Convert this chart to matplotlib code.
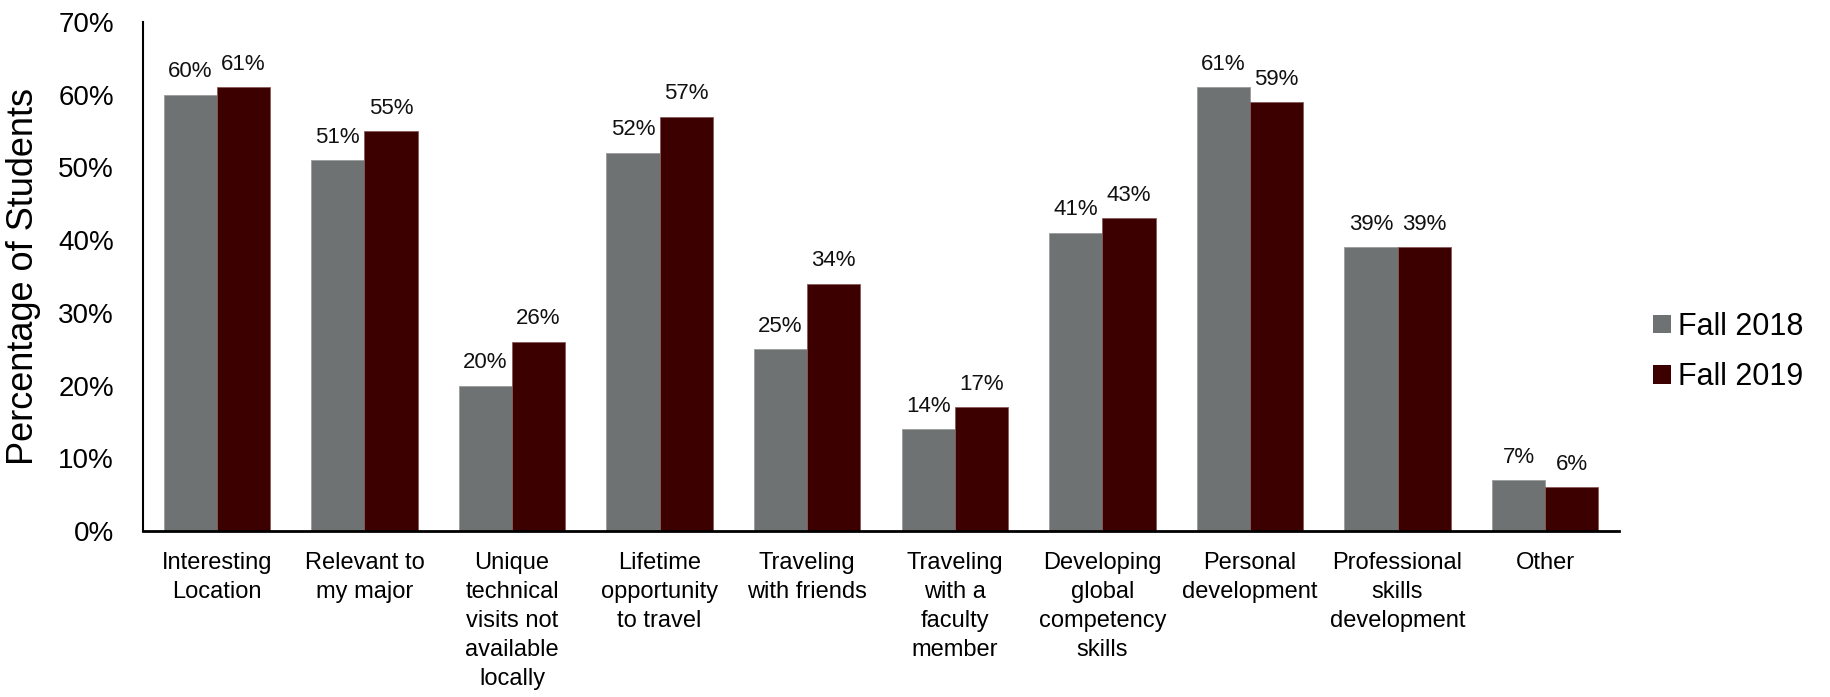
import numpy as np
import matplotlib
matplotlib.use("Agg")
import matplotlib.pyplot as plt
from matplotlib.patches import Patch

plt.rcParams["font.family"] = ["Liberation Sans", "DejaVu Sans"]

# Reasons for studying abroad, percentage of students
categories = [
    "Interesting\nLocation",
    "Relevant to\nmy major",
    "Unique\ntechnical\nvisits not\navailable\nlocally",
    "Lifetime\nopportunity\nto travel",
    "Traveling\nwith friends",
    "Traveling\nwith a\nfaculty\nmember",
    "Developing\nglobal\ncompetency\nskills",
    "Personal\ndevelopment",
    "Professional\nskills\ndevelopment",
    "Other",
]
fall_2018 = [60, 51, 20, 52, 25, 14, 41, 61, 39, 7]
fall_2019 = [61, 55, 26, 57, 34, 17, 43, 59, 39, 6]
series_names = ["Fall 2018", "Fall 2019"]
y_ticks = [0, 10, 20, 30, 40, 50, 60, 70]

GRAY = "#6F7272"
MAROON = "#3C0000"

fig = plt.figure(figsize=(18.31, 6.97), dpi=100)
ax = fig.add_axes([0.0781, 0.2382, 0.8061, 0.7302])

x = np.arange(len(categories))
width = 0.36
bars1 = ax.bar(x - width / 2, fall_2018, width, color=GRAY,
               edgecolor="#9A9C9C", linewidth=0.6)
bars2 = ax.bar(x + width / 2, fall_2019, width, color=MAROON,
               edgecolor="#8A5A5A", linewidth=0.6)

# value labels
for bars, vals in [(bars1, fall_2018), (bars2, fall_2019)]:
    for b, v in zip(bars, vals):
        ax.annotate(f"{v}%", (b.get_x() + b.get_width() / 2, v),
                    xytext=(0, 9), textcoords="offset points",
                    ha="center", va="bottom", fontsize=16, color="#111111")

ax.set_xlim(-0.5, len(categories) - 0.5)
ax.set_ylim(0, 70)
ax.set_yticks(y_ticks)
ax.set_yticklabels([f"{t}%" for t in y_ticks], fontsize=20)
ax.set_xticks(x)
ax.set_xticklabels(categories, fontsize=17, linespacing=1.42)
ax.tick_params(axis="y", length=0, pad=21)
ax.tick_params(axis="x", length=0, pad=15)

ax.set_ylabel("Percentage of Students", fontsize=26, labelpad=12)

for side in ["top", "right"]:
    ax.spines[side].set_visible(False)
ax.spines["left"].set_linewidth(1.5)
ax.spines["bottom"].set_linewidth(2.0)

handles = [Patch(facecolor=GRAY), Patch(facecolor=MAROON)]
fig.legend(handles, series_names, loc="center left",
           bbox_to_anchor=(0.903, 0.495), frameon=False, fontsize=22,
           handlelength=0.56, handleheight=0.56, handletextpad=0.26,
           labelspacing=0.66, borderaxespad=0, borderpad=0)

fig.savefig("out.png", dpi=100)
